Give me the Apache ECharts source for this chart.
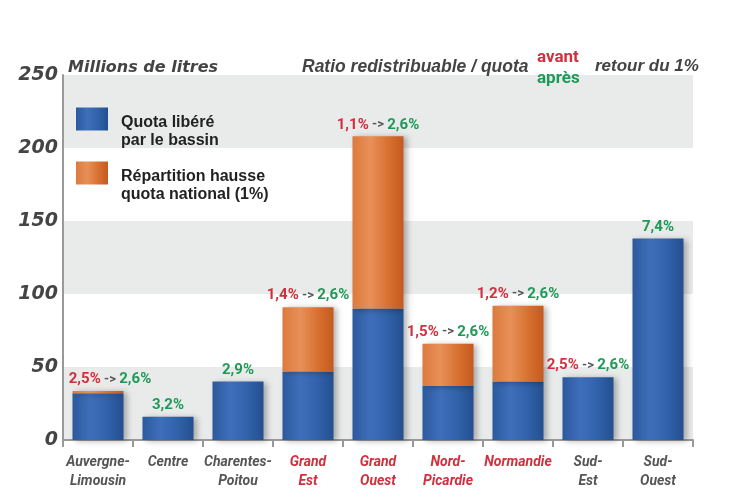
<!DOCTYPE html>
<html><head><meta charset="utf-8">
<script src="https://cdn.jsdelivr.net/npm/echarts@6/dist/echarts.min.js"></script>
<style>html,body{margin:0;padding:0;background:#fff}#c{width:747px;height:504px}</style>
</head><body><div id="c"></div>
<script>
const categories = ["Auvergne-\nLimousin","Centre","Charentes-\nPoitou","Grand\nEst","Grand\nOuest","Nord-\nPicardie","Normandie","Sud-\nEst","Sud-\nOuest"];
const highlighted = [false,false,false,true,true,true,true,false,false];
const quotaLibere = [32,16,40,47,90,37,40,43,138];
const repartition = [1.5,0,0,44,118,29,52,0,0];
const ratioAvant = ["2,5%","","","1,4%","1,1%","1,5%","1,2%","2,5%",""];
const ratioApres = ["2,6%","3,2%","2,9%","2,6%","2,6%","2,6%","2,6%","2,6%","7,4%"];
const yTicks = [0,50,100,150,200,250];

const FONT = 'Roboto,"Liberation Sans",sans-serif';
const WIDE = '"DejaVu Sans",Verdana,sans-serif';
const LIB = '"Liberation Sans",Arial,sans-serif';
const blueGrad = new echarts.graphic.LinearGradient(0,0,1,0,[
  {offset:0,color:'#2c599e'},{offset:0.35,color:'#3f6fba'},{offset:0.7,color:'#3061a9'},{offset:1,color:'#244f8f'}]);
const orangeGrad = new echarts.graphic.LinearGradient(0,0,1,0,[
  {offset:0,color:'#dc7a3e'},{offset:0.35,color:'#e89058'},{offset:0.75,color:'#d56c2c'},{offset:1,color:'#c45a20'}]);

const legendText = {
  'Quota libéré par le bassin': '{sp|}\n{t|Quota libéré}\n{t|par le bassin}',
  'Répartition hausse quota national (1%)': '{sp|}\n{t|Répartition hausse}\n{t|quota national (1%)}'
};

const orangeData = repartition.map((v,i)=> i===0 ? {value:v,label:{offset:[12,0]}} : v);

const chart = echarts.init(document.getElementById('c'));
chart.setOption({
  animation:false,
  grid:{left:63,right:54,top:75,bottom:64},
  legend:{
    orient:'vertical', left:76, top:88, padding:0, itemWidth:32, itemHeight:23, itemGap:-7,
    icon:'rect',
    textStyle:{
      rich:{
        sp:{height:26,lineHeight:26,fontSize:10},
        t:{fontFamily:LIB,fontWeight:'bold',fontSize:16,color:'#222',lineHeight:18,padding:[0,0,0,8]}
      }
    },
    formatter:n=> legendText[n],
    data:['Quota libéré par le bassin','Répartition hausse quota national (1%)']
  },
  graphic:[
    {type:'text',z:100,left:68,top:60,style:{text:'Millions de litres',font:'italic bold 16px '+WIDE,fill:'#444'}},
    {type:'text',z:100,left:302,top:58,style:{text:'Ratio redistribuable / quota',font:'italic bold 17.5px '+LIB,fill:'#444'}},
    {type:'text',z:100,left:537,top:49,style:{text:'avant',font:'bold 17px '+FONT,fill:'#d0303e'}},
    {type:'text',z:100,left:537,top:70,style:{text:'après',font:'bold 17px '+FONT,fill:'#1e9a58'}},
    {type:'text',z:100,left:595,top:58,style:{text:'retour du 1%',font:'italic bold 17px '+LIB,fill:'#444'}}
  ],
  xAxis:{
    type:'category', data:categories,
    axisLine:{lineStyle:{color:'#999',width:2}},
    axisTick:{show:true,length:7,lineStyle:{color:'#999',width:2}},
    axisLabel:{
      interval:0, margin:13, lineHeight:19,
      fontFamily:FONT, fontStyle:'italic', fontWeight:'bold', fontSize:14,
      formatter:(v,i)=> highlighted[i] ? '{r|'+v.replace('\n','}\n{r|')+'}' : '{g|'+v.replace('\n','}\n{g|')+'}',
      rich:{
        r:{color:'#d0303e',fontFamily:FONT,fontStyle:'italic',fontWeight:'bold',fontSize:14,lineHeight:19},
        g:{color:'#555',fontFamily:FONT,fontStyle:'italic',fontWeight:'bold',fontSize:14,lineHeight:19}
      }
    }
  },
  yAxis:{
    type:'value', min:0, max:250, interval:50,
    axisLine:{show:true,lineStyle:{color:'#999',width:2}},
    axisTick:{show:false},
    splitLine:{show:false},
    splitArea:{show:true,areaStyle:{color:['#e9eaea','#ffffff']}},
    axisLabel:{margin:5,fontFamily:WIDE,fontStyle:'italic',fontWeight:'bold',fontSize:19,color:'#444',
      formatter:v=> yTicks.includes(v) ? String(v) : ''}
  },
  series:[
    {name:'Quota libéré par le bassin',type:'bar',stack:'t',barWidth:51,data:quotaLibere,
     itemStyle:{color:blueGrad,shadowColor:'rgba(0,0,0,0.3)',shadowBlur:6,shadowOffsetX:3,shadowOffsetY:1}},
    {name:'Répartition hausse quota national (1%)',type:'bar',stack:'t',barWidth:51,data:orangeData,
     itemStyle:{color:orangeGrad,shadowColor:'rgba(0,0,0,0.3)',shadowBlur:6,shadowOffsetX:3,shadowOffsetY:1},
     label:{show:true,position:'top',distance:4,
       formatter:p=> ratioAvant[p.dataIndex] ? '{a|'+ratioAvant[p.dataIndex]+'} {s|->} {b|'+ratioApres[p.dataIndex]+'}' : '{b|'+ratioApres[p.dataIndex]+'}',
       rich:{
         a:{color:'#d0303e',fontFamily:FONT,fontWeight:'bold',fontSize:15},
         s:{color:'#555',fontFamily:FONT,fontWeight:'bold',fontSize:13},
         b:{color:'#1e9a58',fontFamily:FONT,fontWeight:'bold',fontSize:15}
       }}
    }
  ]
});
</script></body></html>
